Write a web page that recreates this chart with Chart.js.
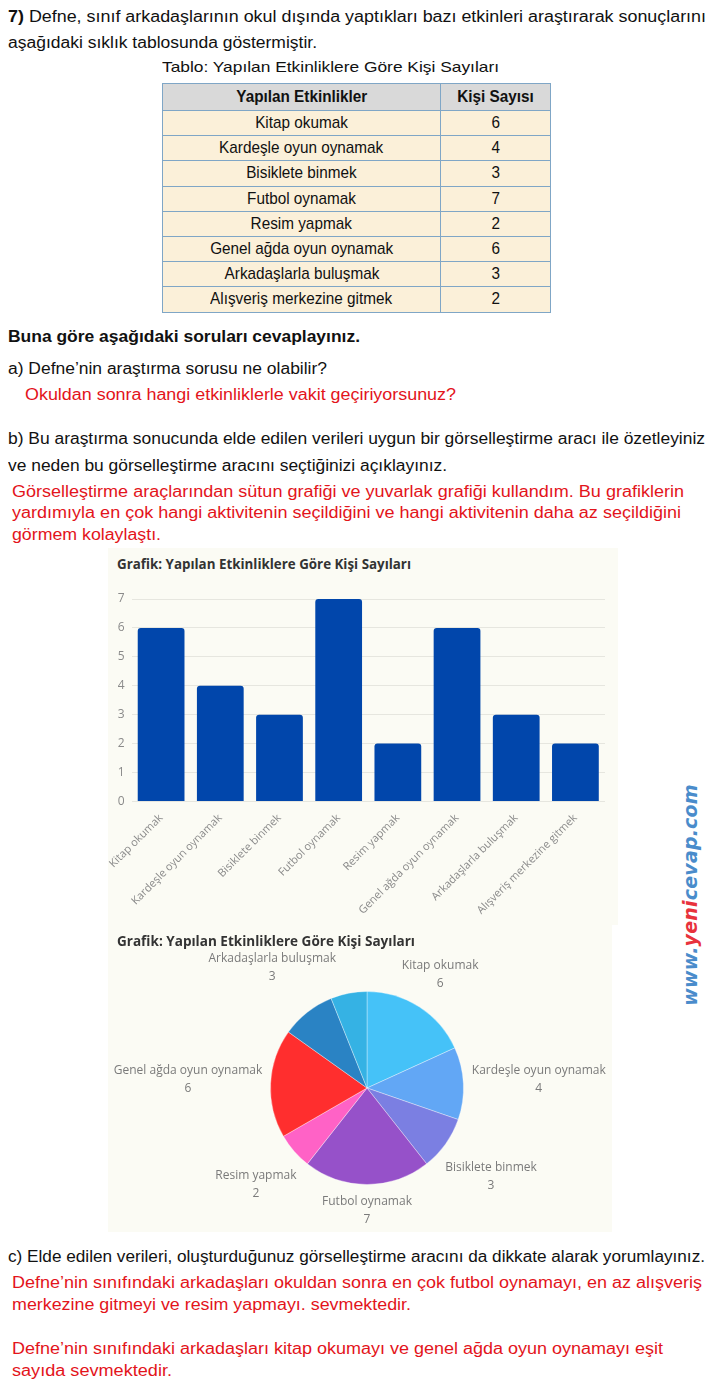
<!DOCTYPE html>
<html lang="tr">
<head>
<meta charset="utf-8">
<script src="https://cdn.jsdelivr.net/npm/chart.js@4.4.1/dist/chart.umd.min.js"></script>
<style>
  html, body { margin: 0; padding: 0; background: #fff; }
  body { width: 709px; height: 1393px; position: relative; overflow: hidden;
         font-family: "Liberation Sans Narrow", "Liberation Sans", Arial, sans-serif; color: #111; }
  .ln { position: absolute; height: 20px; line-height: 20px; white-space: nowrap; font-size: 16px; }
  .ln span, td span, th span { display: inline-block; transform-origin: 50% 50%; }
  .ln span { transform-origin: 0 50%; }
  .red { color: #e3141b; font-family: "Liberation Sans", Arial, sans-serif; }
  .panel { position: absolute; background: #fbfbf4; }
  .ptitle { position: absolute; left: 9px; top: 6px; font: 700 14px "Open Sans", sans-serif; color: #333; white-space: nowrap; }
  .ptitle span { display: inline-block; transform-origin: 0 50%; }
  canvas { position: absolute; left: 0; }
  table { position: absolute; left: 162px; top: 83px; border-collapse: collapse; width: 389px;
          font-size: 17px; }
  td, th { border: 1.5px solid #7fa6c6; text-align: center; padding: 0; line-height: 22px; white-space: nowrap; }
  td span, th span { transform: scaleX(0.9); }
  th { background: #d9d9d9; height: 26px; }
  td { background: #fbf0d9; height: 24.2px; }
  .wm { position: absolute; left: 690px; top: 895px; transform: translate(-50%, -50%) rotate(-90deg);
        font: italic 700 19px "DejaVu Sans", sans-serif; color: #4a8ccb; white-space: nowrap; letter-spacing: 0.2px; }
  .wm b { color: #e8323c; }
</style>
</head>
<body>

<div class="ln" style="left:8px;top:7px" data-w="698"><span><b>7)</b> Defne, sınıf arkadaşlarının okul dışında yaptıkları bazı etkinleri araştırarak sonuçlarını</span></div>
<div class="ln" style="left:8px;top:33px" data-w="309"><span>aşağıdaki sıklık tablosunda göstermiştir.</span></div>
<div class="ln" style="left:162px;top:57px;font-size:15px" data-w="337"><span>Tablo: Yapılan Etkinliklere Göre Kişi Sayıları</span></div>

<table id="tablo"></table>

<div class="ln" style="left:8px;top:327px" data-w="352"><span><b>Buna göre aşağıdaki soruları cevaplayınız.</b></span></div>
<div class="ln" style="left:8px;top:359px" data-w="319"><span>a) Defne’nin araştırma sorusu ne olabilir?</span></div>
<div class="ln red" style="left:25px;top:385px" data-w="431"><span>Okuldan sonra hangi etkinliklerle vakit geçiriyorsunuz?</span></div>
<div class="ln" style="left:8px;top:429px" data-w="697"><span>b) Bu araştırma sonucunda elde edilen verileri uygun bir görselleştirme aracı ile özetleyiniz</span></div>
<div class="ln" style="left:8px;top:456px" data-w="439"><span>ve neden bu görselleştirme aracını seçtiğinizi açıklayınız.</span></div>
<div class="ln red" style="left:12px;top:482px" data-w="672"><span>Görselleştirme araçlarından sütun grafiği ve yuvarlak grafiği kullandım. Bu grafiklerin</span></div>
<div class="ln red" style="left:12px;top:503px" data-w="669"><span>yardımıyla en çok hangi aktivitenin seçildiğini ve hangi aktivitenin daha az seçildiğini</span></div>
<div class="ln red" style="left:12px;top:525px" data-w="149"><span>görmem kolaylaştı.</span></div>

<div class="panel" style="left:108px;top:548px;width:510px;height:377px">
  <div class="ptitle" data-w="294"><span>Grafik: Yapılan Etkinliklere Göre Kişi Sayıları</span></div>
  <canvas id="sutun" style="top:30px" width="510" height="347"></canvas>
</div>

<div class="panel" style="left:108px;top:925px;width:504px;height:307px">
  <canvas id="pasta" style="top:0" width="504" height="307"></canvas>
  <div class="ptitle" data-w="298"><span>Grafik: Yapılan Etkinliklere Göre Kişi Sayıları</span></div>
</div>

<div class="wm">www.<b>yeni</b>cevap.com</div>

<div class="ln" style="left:8px;top:1247px" data-w="697"><span>c) Elde edilen verileri, oluşturduğunuz görselleştirme aracını da dikkate alarak yorumlayınız.</span></div>
<div class="ln red" style="left:12px;top:1273px" data-w="690"><span>Defne’nin sınıfındaki arkadaşları okuldan sonra en çok futbol oynamayı, en az alışveriş</span></div>
<div class="ln red" style="left:12px;top:1295px" data-w="399"><span>merkezine gitmeyi ve resim yapmayı. sevmektedir.</span></div>
<div class="ln red" style="left:12px;top:1339px" data-w="651"><span>Defne’nin sınıfındaki arkadaşları kitap okumayı ve genel ağda oyun oynamayı eşit</span></div>
<div class="ln red" style="left:12px;top:1361px" data-w="160"><span>sayıda sevmektedir.</span></div>

<script>
// veriler
const etkinlikler = ['Kitap okumak', 'Kardeşle oyun oynamak', 'Bisiklete binmek', 'Futbol oynamak',
  'Resim yapmak', 'Genel ağda oyun oynamak', 'Arkadaşlarla buluşmak', 'Alışveriş merkezine gitmek'];
const kisiSayisi = [6, 4, 3, 7, 2, 6, 3, 2];
const tabloBasliklari = ['Yapılan Etkinlikler', 'Kişi Sayısı'];
const pastaRenkleri = ['#45c2f8', '#62a7f5', '#7b7fe2', '#9651c9', '#ff62c6', '#ff2e2e', '#2a83c4', '#35b2e4'];

// tablo
const tablo = document.getElementById('tablo');
let html = '<tr><th style="width:277px"><span>' + tabloBasliklari[0] + '</span></th><th><span>' + tabloBasliklari[1] + '</span></th></tr>';
etkinlikler.forEach((e, i) => { html += '<tr><td><span>' + e + '</span></td><td><span>' + kisiSayisi[i] + '</span></td></tr>'; });
tablo.innerHTML = html;

// satırları genişliğe sığdır
document.querySelectorAll('[data-w]').forEach(el => {
  const s = el.querySelector('span');
  const w = s.getBoundingClientRect().width;
  s.style.transform = 'scaleX(' + (parseFloat(el.dataset.w) / w) + ')';
});

const grid = '#e6e6df';
const gri = '#8a8a8a';

// sütun grafiği
new Chart(document.getElementById('sutun'), {
  type: 'bar',
  data: {
    labels: etkinlikler,
    datasets: [{
      data: kisiSayisi,
      backgroundColor: '#0146ab',
      borderRadius: { topLeft: 3, topRight: 3 },
      borderSkipped: 'start',
      barPercentage: 0.79,
      categoryPercentage: 1
    }]
  },
  options: {
    responsive: false,
    animation: false,
    layout: { padding: { left: 1, right: 13, top: 21, bottom: 6 } },
    plugins: { legend: { display: false }, tooltip: { enabled: false } },
    scales: {
      y: {
        min: 0, max: 7,
        ticks: { stepSize: 1, color: gri, padding: 7, font: { family: 'Open Sans', size: 12 } },
        grid: { color: grid, drawTicks: false },
        border: { display: false }
      },
      x: {
        ticks: { minRotation: 45, maxRotation: 45, color: gri, padding: 2, font: { family: 'Open Sans', size: 11 } },
        grid: { display: false },
        border: { display: false }
      }
    }
  }
});

// pasta etiketleri: dilimin orta açısı boyunca, kutu dilime değecek kadar dışarıda
const disEtiketler = {
  id: 'disEtiketler',
  afterDatasetsDraw(chart) {
    const ctx = chart.ctx;
    const arcs = chart.getDatasetMeta(0).data;
    const lh = 18;
    const kutular = [];
    ctx.save();
    ctx.font = '12px "Open Sans"';
    ctx.fillStyle = '#7a7a7a';
    ctx.textAlign = 'center';
    ctx.textBaseline = 'middle';
    arcs.forEach((arc, i) => {
      const p = arc.getProps(['x', 'y', 'startAngle', 'endAngle', 'outerRadius'], true);
      const mid = (p.startAngle + p.endAngle) / 2;
      const ux = Math.cos(mid), uy = Math.sin(mid);
      const satirlar = [chart.data.labels[i], String(chart.data.datasets[0].data[i])];
      const w = Math.max(...satirlar.map(t => ctx.measureText(t).width));
      const h = lh * 2;
      const pay = uy < 0 ? 8 + 6 * uy : 8;
      const r = p.outerRadius + pay + Math.abs(ux) * w / 2 + Math.abs(uy) * h / 2;
      const cx = p.x + ux * r;
      const cy = p.y + uy * r;
      const kutu = { x1: cx - w / 2, x2: cx + w / 2, y1: cy - h / 2, y2: cy + h / 2 };
      if (kutular.some(k => k.x1 < kutu.x2 && kutu.x1 < k.x2 && k.y1 < kutu.y2 && kutu.y1 < k.y2)) return;
      kutular.push(kutu);
      ctx.fillText(satirlar[0], cx, cy - lh / 2);
      ctx.fillText(satirlar[1], cx, cy + lh / 2);
    });
    ctx.restore();
  }
};

// yuvarlak grafik
new Chart(document.getElementById('pasta'), {
  type: 'pie',
  data: {
    labels: etkinlikler,
    datasets: [{
      data: kisiSayisi,
      backgroundColor: pastaRenkleri,
      borderColor: 'rgba(255,255,255,0.35)',
      borderWidth: 1
    }]
  },
  options: {
    responsive: false,
    animation: false,
    layout: { padding: { left: 162, right: 148, top: 66, bottom: 47 } },
    plugins: { legend: { display: false }, tooltip: { enabled: false } }
  },
  plugins: [disEtiketler]
});
</script>
</body>
</html>
